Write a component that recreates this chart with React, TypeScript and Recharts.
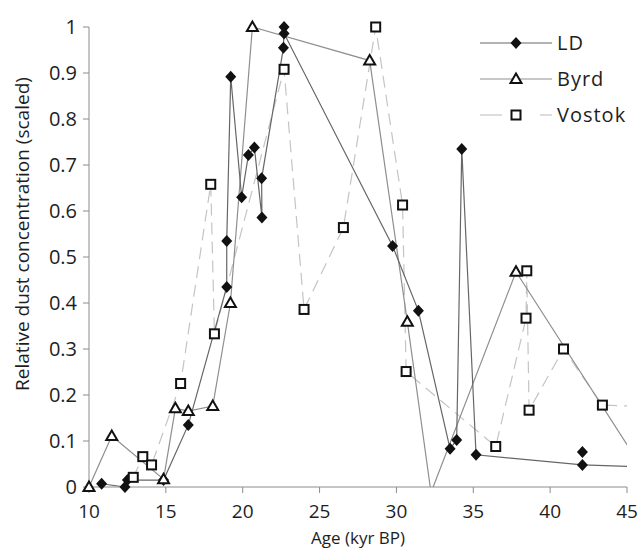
import React from "react";
import { ComposedChart, Line, Scatter, XAxis, YAxis, Legend } from "recharts";

// edades (kyr BP) y polvo escalado, en el orden en que se unen los puntos
const ldAge = [10.82, 12.34, 12.5, 14.85, 16.46, 18.96, 18.96, 19.22, 19.93, 20.37, 20.76, 21.25, 21.23, 22.65, 22.69, 22.69, 29.75, 31.43, 33.49, 33.92, 34.25, 35.18, 42.1, 46, 42.1, 42.1];
const ldDust = [0.007, 0.0, 0.015, 0.015, 0.135, 0.435, 0.535, 0.892, 0.63, 0.722, 0.738, 0.586, 0.671, 0.955, 1.0, 0.986, 0.524, 0.383, 0.083, 0.102, 0.735, 0.07, 0.048, 0.044, null, 0.076];

const byrdAge = [10.0, 11.48, 14.85, 15.62, 16.46, 18.05, 19.2, 20.63, 28.26, 30.71, 32.25, 37.78, 46];
const byrdDust = [0.0, 0.111, 0.017, 0.171, 0.165, 0.176, 0.4, 1.0, 0.927, 0.359, -0.012, 0.468, 0.04];

const vostokAge = [12.88, 13.5, 14.07, 15.96, 17.92, 18.16, 22.69, 23.99, 26.55, 28.65, 30.4, 30.63, 36.46, 38.43, 38.48, 38.63, 40.87, 43.4, 46];
const vostokDust = [0.021, 0.066, 0.048, 0.225, 0.658, 0.333, 0.908, 0.386, 0.564, 1.0, 0.613, 0.251, 0.088, 0.367, 0.47, 0.167, 0.3, 0.178, 0.175];

const xTicks = [10, 15, 20, 25, 30, 35, 40, 45];
const yTicks = [0, 0.1, 0.2, 0.3, 0.4, 0.5, 0.6, 0.7, 0.8, 0.9, 1];

const X_DOMAIN: [number, number] = [10, 45];
const Y_DOMAIN: [number, number] = [0, 1];

const FONT = "'Open Sans', 'Noto Sans', sans-serif";
const INK = "#1e1e1e";

type Pt = { x: number; y: number | null };

const toPoints = (age: number[], dust: (number | null)[]): Pt[] =>
  age.map((x, i) => ({ x, y: dust[i] }));

// los marcadores solo se dibujan dentro del área visible
const visible = (p: Pt) =>
  p.y != null && p.x >= X_DOMAIN[0] && p.x <= X_DOMAIN[1] && p.y >= Y_DOMAIN[0] && p.y <= Y_DOMAIN[1];

const ld = toPoints(ldAge, ldDust);
const byrd = toPoints(byrdAge, byrdDust);
const vostok = toPoints(vostokAge, vostokDust);

const Diamond = ({ cx, cy }: any) => (
  <path d={`M${cx},${cy - 6}L${cx + 5.5},${cy}L${cx},${cy + 6}L${cx - 5.5},${cy}Z`} fill="#111" />
);

const Triangle = ({ cx, cy }: any) => (
  <path
    d={`M${cx},${cy - 5.5}L${cx + 5.5},${cy + 4}L${cx - 5.5},${cy + 4}Z`}
    fill="#fff"
    stroke="#111"
    strokeWidth={2}
  />
);

const Square = ({ cx, cy }: any) => (
  <rect x={cx - 4.5} y={cy - 4.5} width={9} height={9} fill="#fff" stroke="#111" strokeWidth={2} />
);

const series = [
  { name: "LD", color: "#666", dash: undefined, Marker: Diamond },
  { name: "Byrd", color: "#8f8f8f", dash: undefined, Marker: Triangle },
  { name: "Vostok", color: "#c4c4c4", dash: "12 7", Marker: Square },
];

function LegendBox() {
  return (
    <svg width={170} height={110}>
      {series.map((s, i) => {
        const y = 18 + i * 36;
        return (
          <g key={s.name}>
            {s.dash ? (
              <>
                <line x1={10} x2={32} y1={y} y2={y} stroke={s.color} strokeWidth={1.2} />
                <line x1={70} x2={82} y1={y} y2={y} stroke={s.color} strokeWidth={1.2} />
              </>
            ) : (
              <line x1={10} x2={82} y1={y} y2={y} stroke={s.color} strokeWidth={1.2} />
            )}
            <s.Marker cx={46} cy={y} />
            <text x={87} y={y} dy="0.36em" fontSize={20} fontFamily={FONT} fill={INK} letterSpacing={1}>
              {s.name}
            </text>
          </g>
        );
      })}
    </svg>
  );
}

export default function App() {
  return (
    <div style={{ position: "absolute", left: 0, top: 0, width: 639, height: 549, background: "#fff" }}>
      <ComposedChart width={639} height={549} margin={{ top: 27, right: 12, bottom: 32, left: 29 }}>
        <XAxis
          dataKey="x"
          type="number"
          domain={X_DOMAIN}
          allowDataOverflow
          ticks={xTicks}
          height={30}
          tickSize={6}
          tickMargin={12}
          stroke="#8c8c8c"
          tick={{ fill: INK, fontSize: 19, fontFamily: FONT }}
          label={{
            content: ({ viewBox }: any) => (
              <text
                x={viewBox.x + viewBox.width / 2}
                y={viewBox.y + 57}
                textAnchor="middle"
                fontSize={17}
                fontFamily={FONT}
                fill={INK}
              >
                Age (kyr BP)
              </text>
            ),
          }}
        />
        <YAxis
          dataKey="y"
          type="number"
          domain={Y_DOMAIN}
          allowDataOverflow
          ticks={yTicks}
          width={60}
          tickSize={6}
          tickMargin={6}
          stroke="#8c8c8c"
          tick={{ fill: INK, fontSize: 20, fontFamily: FONT }}
          label={{
            content: ({ viewBox }: any) => {
              const x = viewBox.x - 7;
              const y = viewBox.y + viewBox.height / 2 - 23;
              return (
                <text
                  x={x}
                  y={y}
                  transform={`rotate(-90 ${x} ${y})`}
                  textAnchor="middle"
                  dy="0.36em"
                  fontSize={19}
                  fontFamily={FONT}
                  fill={INK}
                >
                  Relative dust concentration (scaled)
                </text>
              );
            },
          }}
        />
        {/* ejes ocultos sin recorte, solo para los marcadores */}
        <XAxis xAxisId="m" dataKey="x" type="number" domain={X_DOMAIN} hide />
        <YAxis yAxisId="m" dataKey="y" type="number" domain={Y_DOMAIN} hide />

        <Legend
          layout="vertical"
          align="center"
          verticalAlign="middle"
          wrapperStyle={{ left: 470, top: 25, width: 170, height: 110 }}
          content={() => <LegendBox />}
        />

        <Line data={vostok} dataKey="y" name="Vostok" stroke="#c4c4c4" strokeWidth={1.2} strokeDasharray="12 7" dot={false} activeDot={false} isAnimationActive={false} />
        <Line data={byrd} dataKey="y" name="Byrd" stroke="#8f8f8f" strokeWidth={1.2} dot={false} activeDot={false} isAnimationActive={false} />
        <Line data={ld} dataKey="y" name="LD" stroke="#666" strokeWidth={1.2} dot={false} activeDot={false} isAnimationActive={false} />

        <Scatter xAxisId="m" yAxisId="m" data={ld.filter(visible)} dataKey="y" shape={Diamond} isAnimationActive={false} legendType="none" />
        <Scatter xAxisId="m" yAxisId="m" data={byrd.filter(visible)} dataKey="y" shape={Triangle} isAnimationActive={false} legendType="none" />
        <Scatter xAxisId="m" yAxisId="m" data={vostok.filter(visible)} dataKey="y" shape={Square} isAnimationActive={false} legendType="none" />
      </ComposedChart>
    </div>
  );
}
